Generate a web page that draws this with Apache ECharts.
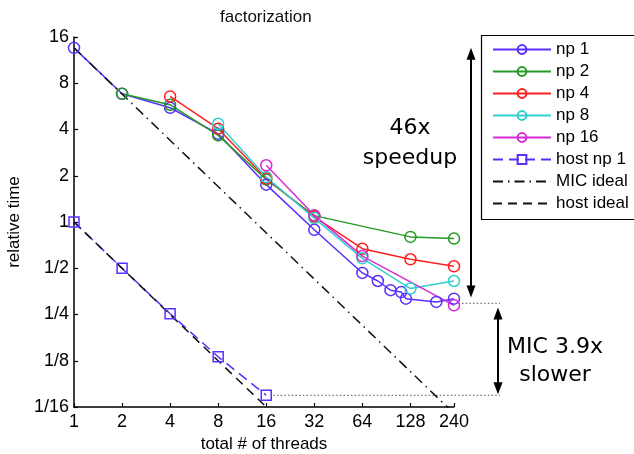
<!DOCTYPE html>
<html>
<head>
<meta charset="utf-8">
<script src="https://cdn.jsdelivr.net/npm/echarts@6/dist/echarts.min.js"></script>
<style>
  html, body { margin: 0; padding: 0; background: #fff; }
  #chart { width: 634px; height: 454px; }
</style>
</head>
<body>
<div id="chart"></div>
<script>
// Thread counts and relative run times (log2 scaled on both axes)
const np1Threads = [1, 2, 4, 8, 16, 32, 64, 80, 96, 112, 120, 186, 240];
const np1Times   = [13.6, 6.83, 5.54, 3.75, 1.75, 0.89, 0.466, 0.413, 0.36, 0.35, 0.317, 0.302, 0.317];
const np2Threads = [2, 4, 8, 16, 32, 128, 240];
const np2Times   = [6.83, 5.8, 3.66, 1.89, 1.1, 0.8, 0.78];
const np4Threads = [4, 8, 16, 32, 64, 128, 240];
const np4Times   = [6.57, 4.05, 1.92, 1.08, 0.67, 0.572, 0.515];
const np8Threads = [8, 16, 32, 64, 128, 240];
const np8Times   = [4.36, 1.96, 1.06, 0.58, 0.369, 0.413];
const np16Threads = [16, 32, 64, 240];
const np16Times   = [2.34, 1.105, 0.6, 0.287];
const hostThreads = [1, 2, 4, 8, 16];
const hostTimes   = [1, 0.5, 0.253, 0.1326, 0.0745];
const micIdealThreads = [1, 240];
const micIdealTimes   = [13.6, 0.0567];
const hostIdealThreads = [1, 16];
const hostIdealTimes   = [1, 0.0625];

const xTickValues = [1, 2, 4, 8, 16, 32, 64, 128, 240];
const yTickLabels = ['1/16', '1/8', '1/4', '1/2', '1', '2', '4', '8', '16'];

// Levels spanned by the annotation arrows
const micStartTime = 13.6;   // MIC, 1 thread
const micBestTime = 0.295;   // MIC, best time at 240 threads
const hostBestTime = 0.0745; // host, 16 threads

const FONT = '"Liberation Sans", Arial, Helvetica, sans-serif';
const NOTE_FONT = '"DejaVu Sans", Verdana, sans-serif';

const lg = Math.log2;
function pts(xs, ys) { return xs.map((x, i) => [lg(x), lg(ys[i])]); }

function mpiSeries(name, xs, ys, color) {
  return {
    name, type: 'line', data: pts(xs, ys),
    symbol: 'circle', symbolSize: 11,
    lineStyle: { color, width: 1.5 },
    itemStyle: { color: 'rgba(255,255,255,0)', borderColor: color, borderWidth: 1.5 },
    emphasis: { disabled: true }
  };
}

const chart = echarts.init(document.getElementById('chart'), null, { renderer: 'canvas' });

// Legend frame runs past the right edge of the canvas
const LEGEND_LEFT = 481, LEGEND_TOP = 35, LEGEND_HEIGHT = 184;

const option = {
  animation: false,
  backgroundColor: '#fff',
  title: {
    text: 'factorization', left: 215, top: 4,
    textStyle: { fontFamily: FONT, fontSize: 17, fontWeight: 'normal', color: '#111' }
  },
  grid: { left: 74, top: 37, width: 380, height: 370, outerBoundsMode: 'none', containLabel: false },
  legend: {
    orient: 'vertical', left: LEGEND_LEFT, top: LEGEND_TOP,
    padding: [6, 4, 6, 11], itemGap: 5, itemWidth: 58, itemHeight: 11,
    borderWidth: 0,
    selectedMode: false,
    textStyle: { fontFamily: FONT, fontSize: 17, color: '#000' },
    data: [
      'np 1', 'np 2', 'np 4', 'np 8', 'np 16', 'host np 1',
      { name: 'MIC ideal', itemStyle: { opacity: 0 } },
      { name: 'host ideal', itemStyle: { opacity: 0 } }
    ]
  },
  xAxis: {
    type: 'value', min: 0, max: lg(240),
    name: 'total # of threads', nameLocation: 'middle', nameGap: 28,
    nameTextStyle: { fontFamily: FONT, fontSize: 17, color: '#000' },
    axisLine: { show: true, onZero: false, lineStyle: { color: '#000', width: 1.5 } },
    axisTick: { show: true, inside: true, length: 4, customValues: xTickValues.map(lg), lineStyle: { color: '#000', width: 1.2 } },
    axisLabel: {
      customValues: xTickValues.map(lg), margin: 6,
      fontFamily: FONT, fontSize: 18, color: '#000',
      formatter: v => String(Math.round(Math.pow(2, v)))
    },
    splitLine: { show: false }
  },
  yAxis: {
    type: 'value', min: -4, max: 4, interval: 1,
    name: 'relative time', nameLocation: 'middle', nameGap: 51,
    nameTextStyle: { fontFamily: FONT, fontSize: 17, color: '#000' },
    axisLine: { show: true, onZero: false, lineStyle: { color: '#000', width: 1.5 } },
    axisTick: { show: true, inside: true, length: 4, lineStyle: { color: '#000', width: 1.2 } },
    axisLabel: {
      margin: 5, fontFamily: FONT, fontSize: 18, color: '#000',
      formatter: v => yTickLabels[Math.round(v) + 4]
    },
    splitLine: { show: false }
  },
  series: [
    mpiSeries('np 1', np1Threads, np1Times, '#5a2eff'),
    mpiSeries('np 2', np2Threads, np2Times, '#249a24'),
    mpiSeries('np 4', np4Threads, np4Times, '#ff1f1f'),
    mpiSeries('np 8', np8Threads, np8Times, '#2fd0cf'),
    mpiSeries('np 16', np16Threads, np16Times, '#d62bd6'),
    {
      name: 'host np 1', type: 'line', data: pts(hostThreads, hostTimes),
      symbol: 'rect', symbolSize: 10,
      lineStyle: { color: '#5a2eff', width: 1.5, type: [10, 6] },
      itemStyle: { color: 'rgba(255,255,255,0)', borderColor: '#5a2eff', borderWidth: 1.5 },
      emphasis: { disabled: true }
    },
    {
      name: 'MIC ideal', type: 'line', data: pts(micIdealThreads, micIdealTimes),
      symbol: 'none', clip: true,
      lineStyle: { color: '#111', width: 1.5, type: [10, 5, 1.5, 5] },
      itemStyle: { color: '#111' },
      emphasis: { disabled: true }
    },
    {
      name: 'host ideal', type: 'line', data: pts(hostIdealThreads, hostIdealTimes),
      symbol: 'none',
      lineStyle: { color: '#111', width: 1.5, type: [9, 6] },
      itemStyle: { color: '#111' },
      emphasis: { disabled: true }
    }
  ]
};

chart.setOption(option);

// Annotations placed from the axis scales
const toPx = (threads, time) => chart.convertToPixel({ gridIndex: 0 }, [lg(threads), lg(time)]);
const pStart = toPx(1, micStartTime);
const pBest = toPx(240, micBestTime);
const pHost = toPx(16, hostBestTime);
const guideEndX = 500;
const speedupX = 471;
const slowerX = 498;

function arrow(x, yTop, yBot) {
  const head = 12, half = 4.5;
  return [
    { type: 'line', shape: { x1: x, y1: yTop + head - 1, x2: x, y2: yBot - head + 1 }, style: { stroke: '#000', lineWidth: 2 } },
    { type: 'polygon', shape: { points: [[x, yTop], [x - half, yTop + head], [x + half, yTop + head]] }, style: { fill: '#000' } },
    { type: 'polygon', shape: { points: [[x, yBot], [x - half, yBot - head], [x + half, yBot - head]] }, style: { fill: '#000' } }
  ];
}

const dotted = { stroke: '#777', lineWidth: 1.3, lineDash: [1.5, 2.2] };

chart.setOption({
  graphic: [
    { type: 'rect', silent: true, shape: { x: LEGEND_LEFT + 0.5, y: LEGEND_TOP + 0.5, width: 200, height: LEGEND_HEIGHT },
      style: { fill: 'none', stroke: '#000', lineWidth: 1.2 } },
    { type: 'line', silent: true, shape: { x1: pBest[0] + 8, y1: pBest[1], x2: guideEndX, y2: pBest[1] }, style: dotted },
    { type: 'line', silent: true, shape: { x1: pHost[0] + 7, y1: pHost[1], x2: guideEndX, y2: pHost[1] }, style: dotted },
    ...arrow(speedupX, pStart[1], pBest[1] - 6),
    ...arrow(slowerX, pBest[1] + 4, pHost[1] - 1),
    { type: 'text', x: 410, y: 128, style: { text: '46x', font: '22px ' + NOTE_FONT, fill: '#000', align: 'center', verticalAlign: 'middle' } },
    { type: 'text', x: 410, y: 158, style: { text: 'speedup', font: '22px ' + NOTE_FONT, fill: '#000', align: 'center', verticalAlign: 'middle' } },
    { type: 'text', x: 555, y: 347, style: { text: 'MIC 3.9x', font: '22px ' + NOTE_FONT, fill: '#000', align: 'center', verticalAlign: 'middle' } },
    { type: 'text', x: 555, y: 375, style: { text: 'slower', font: '22px ' + NOTE_FONT, fill: '#000', align: 'center', verticalAlign: 'middle' } }
  ]
});
</script>
</body>
</html>
